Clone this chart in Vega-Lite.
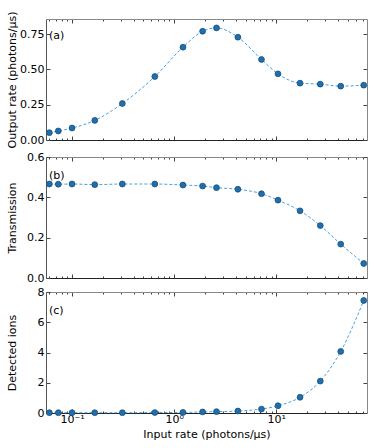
{
  "$schema": "https://vega.github.io/schema/vega-lite/v6.json",
  "padding": {"left": 5, "top": 11, "right": 8, "bottom": 3},
  "config": {
    "font": "DejaVu Sans",
    "view": {"stroke": null},
    "axis": {"labelFont": "DejaVu Sans", "titleFont": "DejaVu Sans", "labelFontSize": 11, "titleFontSize": 11, "titleFontWeight": "normal", "labelColor": "#000", "titleColor": "#000", "domainColor": "#555", "tickColor": "#444", "grid": false, "labelPadding": 3, "labelOverlap": false, "labelFlush": false, "labelBound": false},
    "axisLeft": {"labelPadding": 6},
    "title": {"font": "DejaVu Sans", "fontSize": 11, "fontWeight": "normal", "anchor": "start", "frame": "group", "offset": -30, "dx": 3}
  },
  "datasets": {
    "d": [
      {"rate": 0.060, "out": 0.052, "trans": 0.466, "ions": 0.02},
      {"rate": 0.0734, "out": 0.064, "trans": 0.465, "ions": 0.02},
      {"rate": 0.100, "out": 0.085, "trans": 0.466, "ions": 0.02},
      {"rate": 0.167, "out": 0.139, "trans": 0.463, "ions": 0.02},
      {"rate": 0.311, "out": 0.259, "trans": 0.466, "ions": 0.02},
      {"rate": 0.647, "out": 0.450, "trans": 0.466, "ions": 0.03},
      {"rate": 1.22, "out": 0.658, "trans": 0.461, "ions": 0.04},
      {"rate": 1.90, "out": 0.771, "trans": 0.456, "ions": 0.07},
      {"rate": 2.60, "out": 0.795, "trans": 0.448, "ions": 0.09},
      {"rate": 4.21, "out": 0.729, "trans": 0.440, "ions": 0.13},
      {"rate": 7.17, "out": 0.571, "trans": 0.418, "ions": 0.26},
      {"rate": 10.4, "out": 0.469, "trans": 0.386, "ions": 0.48},
      {"rate": 17.1, "out": 0.403, "trans": 0.333, "ions": 1.04},
      {"rate": 27.0, "out": 0.396, "trans": 0.260, "ions": 2.11},
      {"rate": 42.8, "out": 0.382, "trans": 0.168, "ions": 4.07},
      {"rate": 71.9, "out": 0.389, "trans": 0.072, "ions": 7.44}
    ]
  },
  "spacing": 3,
  "vconcat": [
    {
      "width": 321, "height": 121,
      "title": {"text": "(a)"},
      "data": {"name": "d"},
      "layer": [
        {
          "mark": {"type": "line", "interpolate": "monotone", "strokeDash": [3, 2], "color": "#4f9fd8", "strokeWidth": 1},
          "encoding": {
            "x": {"field": "rate", "type": "quantitative", "scale": {"type": "log", "domain": [0.0556, 77.4], "nice": false},
              "axis": {"orient": "bottom", "title": null, "labels": false, "domainColor": "#222", "values": [0.06, 0.07, 0.08, 0.09, 0.1, 0.2, 0.3, 0.4, 0.5, 0.6, 0.7, 0.8, 0.9, 1, 2, 3, 4, 5, 6, 7, 8, 9, 10, 20, 30, 40, 50, 60, 70],
                "tickSize": {"condition": {"test": "datum.value == 0.1 || datum.value == 1 || datum.value == 10", "value": -4}, "value": -2}}},
            "y": {"field": "out", "type": "quantitative", "scale": {"domain": [0, 0.858], "nice": false},
              "axis": {"orient": "left", "title": "Output rate (photons/μs)", "titleX": -29, "values": [0, 0.25, 0.5, 0.75], "format": ".2f", "tickSize": -4}}
          }
        },
        {
          "mark": {"type": "point", "filled": true, "size": 34, "color": "#1f6fae", "stroke": "#174f7c", "strokeWidth": 0.8, "opacity": 1},
          "encoding": {
            "x": {"field": "rate", "type": "quantitative",
              "axis": {"orient": "top", "title": null, "labels": false, "domainColor": "#888", "values": [0.06, 0.07, 0.08, 0.09, 0.1, 0.2, 0.3, 0.4, 0.5, 0.6, 0.7, 0.8, 0.9, 1, 2, 3, 4, 5, 6, 7, 8, 9, 10, 20, 30, 40, 50, 60, 70],
                "tickSize": {"condition": {"test": "datum.value == 0.1 || datum.value == 1 || datum.value == 10", "value": -4}, "value": -2}}},
            "y": {"field": "out", "type": "quantitative",
              "axis": {"orient": "right", "title": null, "labels": false, "domainColor": "#888", "values": [0, 0.25, 0.5, 0.75], "tickSize": -4}}
          }
        }
      ],
      "resolve": {"axis": {"x": "independent", "y": "independent"}}
    },
    {
      "width": 321, "height": 121,
      "title": {"text": "(b)"},
      "data": {"name": "d"},
      "layer": [
        {
          "mark": {"type": "line", "interpolate": "monotone", "strokeDash": [3, 2], "color": "#4f9fd8", "strokeWidth": 1},
          "encoding": {
            "x": {"field": "rate", "type": "quantitative", "scale": {"type": "log", "domain": [0.0556, 77.4], "nice": false},
              "axis": {"orient": "bottom", "title": null, "labels": false, "domainColor": "#222", "values": [0.06, 0.07, 0.08, 0.09, 0.1, 0.2, 0.3, 0.4, 0.5, 0.6, 0.7, 0.8, 0.9, 1, 2, 3, 4, 5, 6, 7, 8, 9, 10, 20, 30, 40, 50, 60, 70],
                "tickSize": {"condition": {"test": "datum.value == 0.1 || datum.value == 1 || datum.value == 10", "value": -4}, "value": -2}}},
            "y": {"field": "trans", "type": "quantitative", "scale": {"domain": [0, 0.6], "nice": false},
              "axis": {"orient": "left", "title": "Transmission", "titleX": -29, "values": [0, 0.2, 0.4, 0.6], "format": ".1f", "tickSize": -4}}
          }
        },
        {
          "mark": {"type": "point", "filled": true, "size": 34, "color": "#1f6fae", "stroke": "#174f7c", "strokeWidth": 0.8, "opacity": 1},
          "encoding": {
            "x": {"field": "rate", "type": "quantitative",
              "axis": {"orient": "top", "title": null, "labels": false, "domainColor": "#888", "values": [0.06, 0.07, 0.08, 0.09, 0.1, 0.2, 0.3, 0.4, 0.5, 0.6, 0.7, 0.8, 0.9, 1, 2, 3, 4, 5, 6, 7, 8, 9, 10, 20, 30, 40, 50, 60, 70],
                "tickSize": {"condition": {"test": "datum.value == 0.1 || datum.value == 1 || datum.value == 10", "value": -4}, "value": -2}}},
            "y": {"field": "trans", "type": "quantitative",
              "axis": {"orient": "right", "title": null, "labels": false, "domainColor": "#888", "values": [0, 0.2, 0.4, 0.6], "tickSize": -4}}
          }
        }
      ],
      "resolve": {"axis": {"x": "independent", "y": "independent"}}
    },
    {
      "width": 321, "height": 121,
      "title": {"text": "(c)"},
      "data": {"name": "d"},
      "layer": [
        {
          "mark": {"type": "line", "interpolate": "monotone", "strokeDash": [3, 2], "color": "#4f9fd8", "strokeWidth": 1},
          "encoding": {
            "x": {"field": "rate", "type": "quantitative", "scale": {"type": "log", "domain": [0.0556, 77.4], "nice": false},
              "axis": {"orient": "bottom", "title": "Input rate (photons/μs)", "titlePadding": 2, "domainColor": "#222", "labelPadding": 4, "values": [0.06, 0.07, 0.08, 0.09, 0.1, 0.2, 0.3, 0.4, 0.5, 0.6, 0.7, 0.8, 0.9, 1, 2, 3, 4, 5, 6, 7, 8, 9, 10, 20, 30, 40, 50, 60, 70],
                "labelExpr": "datum.value == 0.1 ? '10⁻¹' : datum.value == 1 ? '10⁰' : datum.value == 10 ? '10¹' : ''",
                "tickSize": {"condition": {"test": "datum.value == 0.1 || datum.value == 1 || datum.value == 10", "value": -4}, "value": -2}}},
            "y": {"field": "ions", "type": "quantitative", "scale": {"domain": [0, 8], "nice": false},
              "axis": {"orient": "left", "title": "Detected ions", "titleX": -29, "values": [0, 2, 4, 6, 8], "format": "d", "tickSize": -4}}
          }
        },
        {
          "mark": {"type": "point", "filled": true, "size": 34, "color": "#1f6fae", "stroke": "#174f7c", "strokeWidth": 0.8, "opacity": 1},
          "encoding": {
            "x": {"field": "rate", "type": "quantitative",
              "axis": {"orient": "top", "title": null, "labels": false, "domainColor": "#888", "values": [0.06, 0.07, 0.08, 0.09, 0.1, 0.2, 0.3, 0.4, 0.5, 0.6, 0.7, 0.8, 0.9, 1, 2, 3, 4, 5, 6, 7, 8, 9, 10, 20, 30, 40, 50, 60, 70],
                "tickSize": {"condition": {"test": "datum.value == 0.1 || datum.value == 1 || datum.value == 10", "value": -4}, "value": -2}}},
            "y": {"field": "ions", "type": "quantitative",
              "axis": {"orient": "right", "title": null, "labels": false, "domainColor": "#888", "values": [0, 2, 4, 6, 8], "tickSize": -4}}
          }
        }
      ],
      "resolve": {"axis": {"x": "independent", "y": "independent"}}
    }
  ]
}
